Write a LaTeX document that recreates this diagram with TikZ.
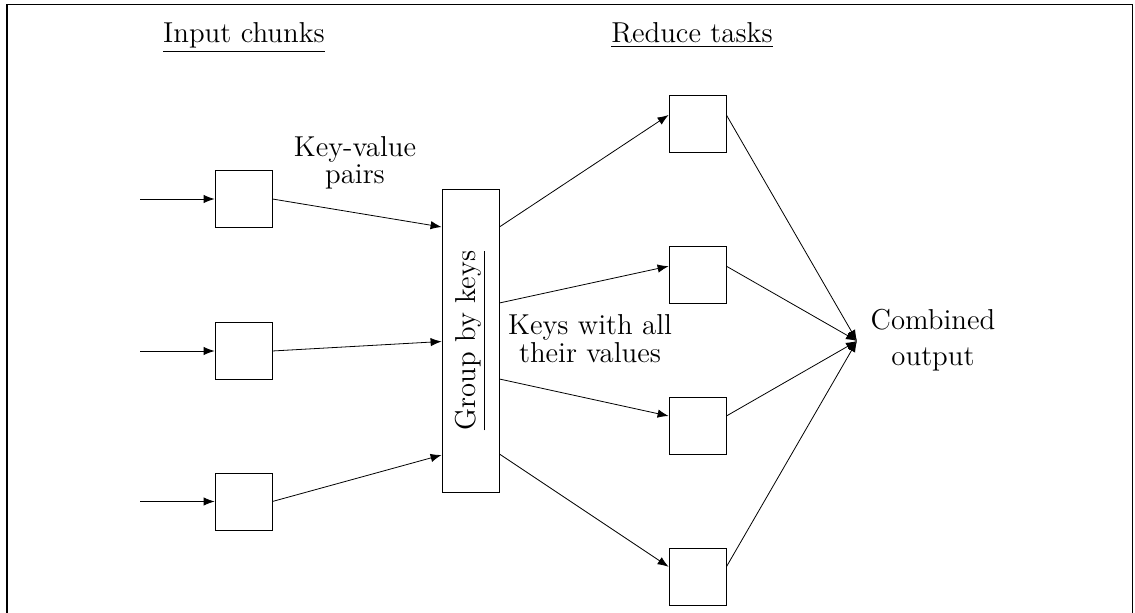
\documentclass[tikz,border=0pt]{standalone}
\usetikzlibrary{arrows.meta,calc}
\begin{document}
\begin{tikzpicture}[x=0.5pt,y=-0.5pt,
  box/.style={draw,inner sep=0pt,minimum width=28.5pt,minimum height=28.5pt},
  tallbox/.style={draw,inner sep=0pt,minimum width=28.5pt,minimum height=151.5pt},
  lbl/.style={font=\fontsize{14.4}{12}\selectfont,align=center,inner sep=0pt},
  lblwide/.style={font=\fontsize{14.4}{18}\selectfont,align=center,inner sep=0pt},
  head/.style={font=\fontsize{14.4}{18}\selectfont,anchor=base,inner sep=0pt},
  arr/.style={-{Latex[length=5.5pt,width=4.2pt]}}]
\useasboundingbox (0,0) rectangle (1135,613);
\begin{scope}
  \clip (0,0) rectangle (1135,613);
  \draw[line width=0.6pt] (7,4.5) rectangle (1132.5,660);
\end{scope}
% headers
\node[head] (hin) at (244,43) {\underline{Input chunks}};
\node[head] (hred) at (692,43) {\underline{Reduce tasks}};
% input boxes
\coordinate (s1) at (140,199);
\coordinate (s2) at (140,351);
\coordinate (s3) at (140,501.5);
\node[box] (i1) at (243.5,199) {};
\node[box] (i2) at (243.5,351) {};
\node[box] (i3) at (243.5,501.5) {};
% group box
\node[tallbox] (g) at (470.5,340.5) {};
\node[rotate=90,font=\fontsize{14.4}{18}\selectfont,inner sep=0pt] (gt) at (g.center) {\underline{Group by keys}};
\coordinate (gw1) at ($(g.west)+(0,-113.5)$);
\coordinate (gw2) at ($(g.west)+(0,1)$);
\coordinate (gw3) at ($(g.west)+(0,114.5)$);
\coordinate (ge1) at ($(g.east)+(0,-113.5)$);
\coordinate (ge2) at ($(g.east)+(0,-37.5)$);
\coordinate (ge3) at ($(g.east)+(0,38.5)$);
\coordinate (ge4) at ($(g.east)+(0,113.5)$);
% reduce boxes
\node[box] (r1) at (697.5,123.5) {};
\node[box] (r2) at (697.5,274.7) {};
\node[box] (r3) at (697.5,426) {};
\node[box] (r4) at (697.5,577.3) {};
\coordinate (rw1) at ($(r1.west)+(0,-8.5)$);
\coordinate (rw2) at ($(r2.west)+(0,-8.5)$);
\coordinate (rw3) at ($(r3.west)+(0,-10)$);
\coordinate (rw4) at ($(r4.west)+(0,-10.5)$);
\coordinate (re1) at ($(r1.east)+(0,-8.5)$);
\coordinate (re2) at ($(r2.east)+(0,-8.5)$);
\coordinate (re3) at ($(r3.east)+(0,-10)$);
\coordinate (re4) at ($(r4.east)+(0,-10.5)$);
% output
\coordinate (c) at (857,341);
\node[lblwide] (out) at (933,340) {Combined\\output};
% labels
\node[lbl] (kv) at (355,163) {Key-value\\pairs};
\node[lbl] (kw) at (590,339) {Keys with all\\their values};
% connectors
\draw[arr] (s1) -- (i1);
\draw[arr] (s2) -- (i2);
\draw[arr] (s3) -- (i3);
\draw[arr] (i1.east) -- (gw1);
\draw[arr] (i2.east) -- (gw2);
\draw[arr] (i3.east) -- (gw3);
\draw[arr] (ge1) -- (rw1);
\draw[arr] (ge2) -- (rw2);
\draw[arr] (ge3) -- (rw3);
\draw[arr] (ge4) -- (rw4);
\draw[arr] (re1) -- (c);
\draw[arr] (re2) -- (c);
\draw[arr] (re3) -- (c);
\draw[arr] (re4) -- (c);
\end{tikzpicture}
\end{document}
